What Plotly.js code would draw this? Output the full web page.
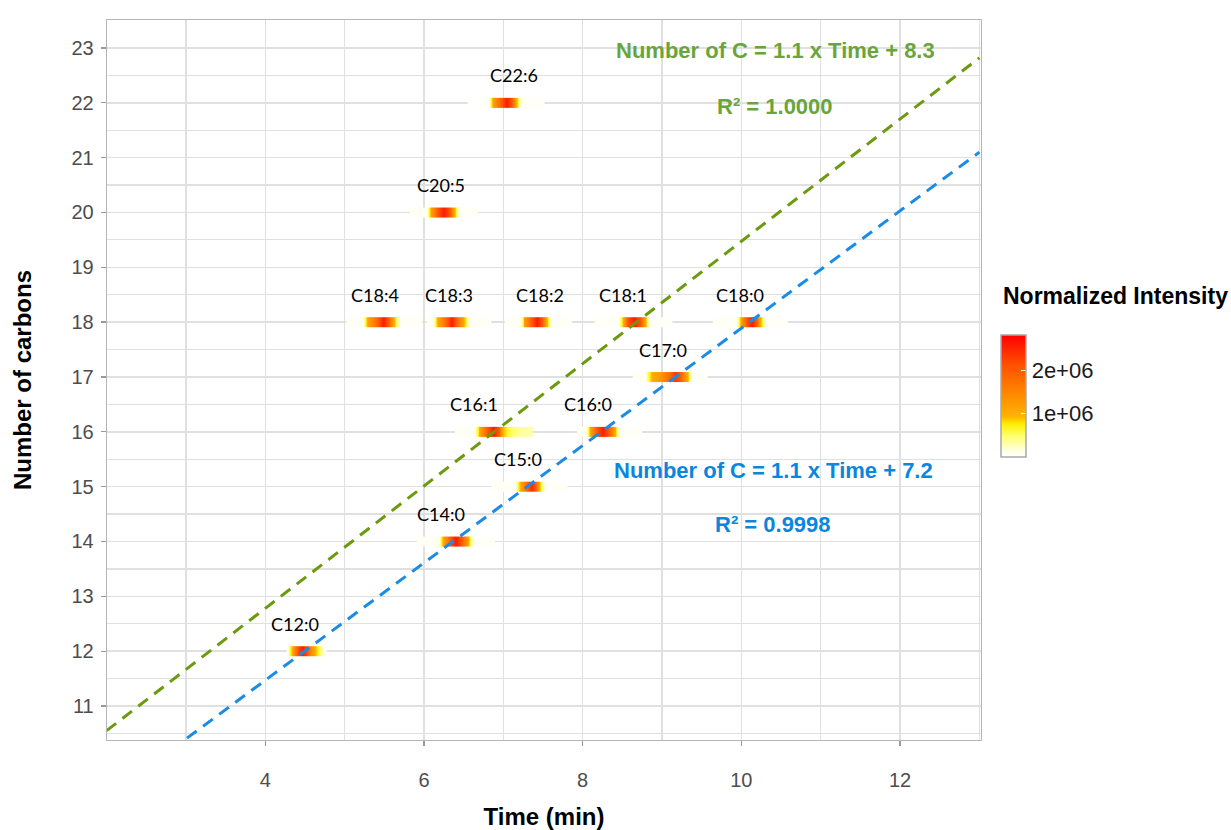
<!DOCTYPE html>
<html>
<head>
<meta charset="utf-8">
<script src="https://cdn.plot.ly/plotly-3.0.1.min.js"></script>
<style>html,body{margin:0;padding:0;background:#fff;}</style>
</head>
<body>
<div id="chart" style="width:1231px;height:830px;"></div>
<script>
// ---- data ----
const lipids    = ['C12:0','C14:0','C15:0','C16:0','C16:1','C17:0','C18:0','C18:1','C18:2','C18:3','C18:4','C20:5','C22:6'];
const carbons   = [12, 14, 15, 16, 16, 17, 18, 18, 18, 18, 18, 20, 22];
const labelTime = [4.37, 6.21, 7.19, 8.07, 6.63, 9.01, 9.98, 8.51, 7.46, 6.32, 5.38, 6.22, 7.14];

// retention-time bin edges (min) for each lipid
const timeEdges = [
  [4.27,4.29,4.33,4.37,4.42,4.51,4.56,4.64,4.71,4.74,4.78],
  [5.91,6.17,6.20,6.24,6.32,6.47,6.55,6.60,6.63,6.89],
  [6.85,7.14,7.17,7.21,7.30,7.40,7.46,7.50,7.53,7.81],
  [7.93,8.02,8.05,8.09,8.18,8.32,8.41,8.45,8.48,8.75],
  [6.39,6.63,6.66,6.70,6.80,6.95,7.00,7.12,7.30,7.37],
  [8.63,8.78,8.81,8.87,9.10,9.23,9.32,9.36,9.39,9.58],
  [9.64,9.93,9.96,9.99,10.07,10.20,10.24,10.28,10.31,10.59],
  [8.15,8.44,8.47,8.51,8.57,8.73,8.79,8.83,8.86,9.13],
  [7.02,7.20,7.23,7.26,7.36,7.48,7.55,7.59,7.62,7.86],
  [6.03,6.10,6.13,6.17,6.29,6.39,6.49,6.55,6.58,6.85],
  [5.02,5.22,5.25,5.29,5.42,5.55,5.63,5.67,5.70,5.98],
  [5.82,6.02,6.05,6.08,6.17,6.32,6.39,6.43,6.46,6.68],
  [6.55,6.80,6.83,6.87,6.98,7.10,7.17,7.21,7.24,7.52]
];
// normalized intensity in each bin
const intensity = [
  [0.10e6,0.70e6,1.20e6,1.90e6,2.60e6,1.90e6,1.20e6,0.60e6,0.08e6,0.05e6],
  [0.05e6,0.06e6,0.70e6,1.50e6,2.60e6,1.60e6,0.60e6,0.06e6,0.05e6],
  [0.05e6,0.06e6,0.70e6,1.50e6,2.50e6,1.40e6,0.50e6,0.05e6,0.04e6],
  [0.05e6,0.06e6,0.70e6,1.60e6,2.60e6,1.50e6,0.50e6,0.05e6,0.04e6],
  [0.05e6,0.06e6,0.70e6,1.60e6,2.60e6,1.30e6,0.60e6,0.35e6,0.30e6],
  [0.05e6,0.06e6,0.70e6,1.30e6,2.40e6,1.40e6,0.50e6,0.05e6,0.04e6],
  [0.05e6,0.06e6,0.70e6,1.60e6,2.60e6,1.20e6,0.60e6,0.05e6,0.04e6],
  [0.05e6,0.06e6,0.70e6,1.60e6,2.60e6,1.40e6,0.50e6,0.05e6,0.04e6],
  [0.05e6,0.06e6,0.70e6,1.60e6,2.60e6,1.40e6,0.50e6,0.05e6,0.04e6],
  [0.05e6,0.06e6,0.70e6,1.50e6,2.60e6,1.50e6,0.70e6,0.05e6,0.04e6],
  [0.05e6,0.06e6,0.70e6,1.50e6,2.60e6,1.40e6,0.50e6,0.05e6,0.04e6],
  [0.05e6,0.06e6,0.70e6,1.60e6,2.60e6,1.40e6,0.50e6,0.05e6,0.04e6],
  [0.01e6,0.05e6,0.70e6,1.60e6,2.60e6,1.40e6,0.50e6,0.05e6,0.04e6]
];

// regression lines
const fitTime   = [2, 13];
const fitUnsat  = [10.55, 22.82];   // green
const fitSat    = [9.33, 21.10];    // blue
const eqUnsat   = ['Number of C = 1.1 x Time + 8.3', 'R² = 1.0000'];
const eqSat     = ['Number of C = 1.1 x Time + 7.2', 'R² = 0.9998'];

const colorbarTicks = [1e6, 2e6];
const colorbarText  = ['1e+06', '2e+06'];

// ---- traces ----
const halfH = 0.09;
const traces = [];
lipids.forEach((name, i) => {
  traces.push({
    type: 'heatmap',
    x: timeEdges[i],
    y: [carbons[i] - halfH, carbons[i], carbons[i] + halfH],
    z: [intensity[i], intensity[i]],
    zsmooth: 'best',
    coloraxis: 'coloraxis',
    hoverinfo: 'skip'
  });
});
traces.push({
  type: 'scatter', mode: 'lines', x: fitTime, y: fitUnsat,
  line: {color: '#6B9A0E', width: 3, dash: '12px,8px'}, hoverinfo: 'skip', showlegend: false
});
traces.push({
  type: 'scatter', mode: 'lines', x: fitTime, y: fitSat,
  line: {color: '#1A8CE6', width: 3, dash: '12px,8px'}, hoverinfo: 'skip', showlegend: false
});

// ---- annotations ----
const annotations = lipids.map((name, i) => ({
  x: labelTime[i], y: carbons[i] + 0.5, xref: 'x', yref: 'y',
  text: name, showarrow: false,
  font: {family: 'Lato, Carlito, sans-serif', size: 18, color: '#000000'}
}));
const eqFont = (c) => ({family: 'Arial, Liberation Sans, sans-serif', size: 22, color: c});
annotations.push({x: 10.43, y: 22.96, xref:'x', yref:'y', text: '<b>' + eqUnsat[0] + '</b>', showarrow:false, font: eqFont('#6AA53C')});
annotations.push({x: 10.43, y: 21.94, xref:'x', yref:'y', text: '<b>' + eqUnsat[1] + '</b>', showarrow:false, font: eqFont('#6AA53C')});
annotations.push({x: 10.40, y: 15.30, xref:'x', yref:'y', text: '<b>' + eqSat[0] + '</b>', showarrow:false, font: eqFont('#0A86DE')});
annotations.push({x: 10.40, y: 14.31, xref:'x', yref:'y', text: '<b>' + eqSat[1] + '</b>', showarrow:false, font: eqFont('#0A86DE')});
// colorbar title
annotations.push({
  x: 1.023, y: 0.617, xref: 'paper', yref: 'paper', xanchor: 'left', yanchor: 'middle',
  text: '<b>Normalized Intensity</b>', showarrow: false,
  font: {family: 'Arial, Liberation Sans, sans-serif', size: 23, color: '#000000'}
});

const gridCol = '#E0E0E0';
const layout = {
  width: 1231, height: 830,
  margin: {l: 107, r: 250, t: 20, b: 90},
  paper_bgcolor: '#FFFFFF', plot_bgcolor: '#FFFFFF',
  showlegend: false,
  font: {family: 'Arial, Liberation Sans, sans-serif', color: '#4D4D4D'},
  xaxis: {
    range: [2.005, 13.02], tickmode: 'linear', tick0: 4, dtick: 2,
    ticks: 'outside', ticklen: 5, tickwidth: 1.3, tickcolor: '#9A9A9A',
    tickfont: {size: 20, color: '#4D4D4D'}, ticklabelstandoff: 17,
    showgrid: true, gridcolor: gridCol, gridwidth: 1.4,
    minor: {dtick: 1, tick0: 0, showgrid: true, gridcolor: gridCol, gridwidth: 1.2, ticks: ''},
    zeroline: false, showline: true, mirror: true, linecolor: '#B5B5B5', linewidth: 1.3,
    title: {text: '<b>Time (min)</b>', font: {size: 24, color: '#000000'}, standoff: 18},
    automargin: false
  },
  yaxis: {
    range: [10.38, 23.51], tickmode: 'linear', tick0: 11, dtick: 1,
    ticks: 'outside', ticklen: 5, tickwidth: 1.3, tickcolor: '#9A9A9A',
    tickfont: {size: 20, color: '#4D4D4D'}, ticklabelstandoff: 3,
    showgrid: true, gridcolor: gridCol, gridwidth: 1.4,
    minor: {dtick: 1, tick0: 10.5, showgrid: true, gridcolor: gridCol, gridwidth: 1.2, ticks: ''},
    zeroline: false, showline: true, mirror: true, linecolor: '#B5B5B5', linewidth: 1.3,
    title: {text: '<b>Number of carbons</b>', font: {size: 24, color: '#000000'}, standoff: 33},
    automargin: false
  },
  coloraxis: {
    cmin: 0, cmax: 2.83e6,
    colorscale: [
      [0, '#FFFFFF'], [0.05, '#FFFFE2'], [0.17, '#FFFF70'], [0.27, '#FFEF00'],
      [0.33, '#FFB400'], [0.5, '#FF8C00'], [0.75, '#FF5200'], [1, '#FF0000']
    ],
    colorbar: {
      x: 1.0229, xanchor: 'left', xpad: 0, ypad: 0,
      y: 0.478, yanchor: 'middle',
      thickness: 25, thicknessmode: 'pixels', len: 122, lenmode: 'pixels',
      outlinecolor: '#A8A8A8', outlinewidth: 1.5,
      tickmode: 'array', tickvals: colorbarTicks, ticktext: colorbarText,
      ticks: 'inside', ticklen: 5, tickcolor: '#FFFFFF', tickwidth: 1.2,
      tickfont: {size: 22, color: '#1A1A1A'}, ticklabelstandoff: 12,
      title: {text: ''}
    }
  },
  annotations: annotations
};

Plotly.newPlot('chart', traces, layout, {displayModeBar: false, staticPlot: true});
</script>
</body>
</html>
